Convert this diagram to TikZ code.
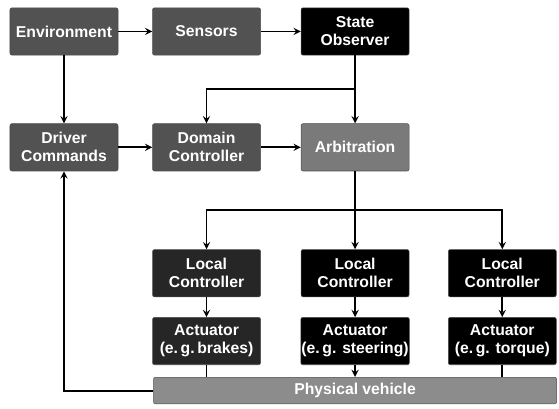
\documentclass[tikz,border=0pt]{standalone}
\usepackage{fontspec}
\setmainfont{Liberation Sans}
\usetikzlibrary{calc,arrows,positioning}

\begin{document}
\begin{tikzpicture}

\tikzset{blk/.style={text=white,font=\fontsize{11.8}{13.5}\selectfont\bfseries,align=center,draw=black!70,rounded corners=1.5pt,inner sep=0.5pt,minimum width=81pt,minimum height=35.5pt,shape=rectangle},
grey/.style={blk,fill=black!68},
light/.style={blk,fill=black!52},
dark/.style={blk,fill=black},
darkish/.style={blk,fill=black!85},
plant/.style={blk,fill=black!45,minimum width=302.25pt,minimum height=20pt},
flow/.style={->,>=stealth,line width=1.4pt},
wire/.style={line width=1.4pt}}

\useasboundingbox (-48pt,23.6pt) rectangle (371.25pt,-283.1pt);

% Top row
\node (env) [grey] {Environment};
\node (sens) [right=25.5pt of env,grey] {Sensors};
\node (obs) [right=30pt of sens,dark] {State\\Observer};

% Second row
\node (drv) [below=51pt of env,grey] {Driver\\Commands};
\node (dom) [below=51pt of sens,grey] {Domain\\Controller};
\node (arb) [below=51pt of obs,light] {Arbitration};

% Local controllers
\node (lc1) [below=58.5pt of dom,darkish] {Local\\Controller};
\node (lc2) [below=58.5pt of arb,dark] {Local\\Controller};
\node (lc3) [right=29pt of lc2,dark] {Local\\Controller};

% Actuators
\node (act1) [below=15pt of lc1,darkish] {Actuator\\(e.\,g.\,brakes)};
\node (act2) [below=15pt of lc2,dark] {Actuator\\(e.\,g. steering)};
\node (act3) [below=15pt of lc3,dark] {Actuator\\(e.\,g. torque)};

% Vehicle
\node (pv) [below=9pt of act2,plant] {Physical vehicle};

% Junctions
\coordinate (j1) at ($(obs.south)!0.5!(arb.north)$);
\coordinate (j2) at ($(arb.south)!0.5!(lc2.north)$);

% Arrows of the upper part
\draw [flow] (env) -- (sens);
\draw [flow] (sens) -- (obs);
\draw [flow] (env) -- (drv);
\draw [flow] (drv) -- (dom);
\draw [flow] (dom) -- (arb);
\draw [flow] (obs) -- (arb);
\draw [flow] (j1) -| (dom.north);

% Arrows to the local loops
\draw [flow] (arb) -- (lc2);
\draw [flow] (j2) -| (lc1.north);
\draw [flow] (j2) -| (lc3.north);
\draw [flow] (lc1) -- (act1);
\draw [flow] (lc2) -- (act2);
\draw [flow] (lc3) -- (act3);
\draw [wire] (act1) -- (act1.south |- pv.north);
\draw [flow] (act2) -- (pv);
\draw [wire] (act3) -- (act3.south |- pv.north);

% Feedback
\draw [flow] (pv.west) -| (drv.south);

\end{tikzpicture}
\end{document}
